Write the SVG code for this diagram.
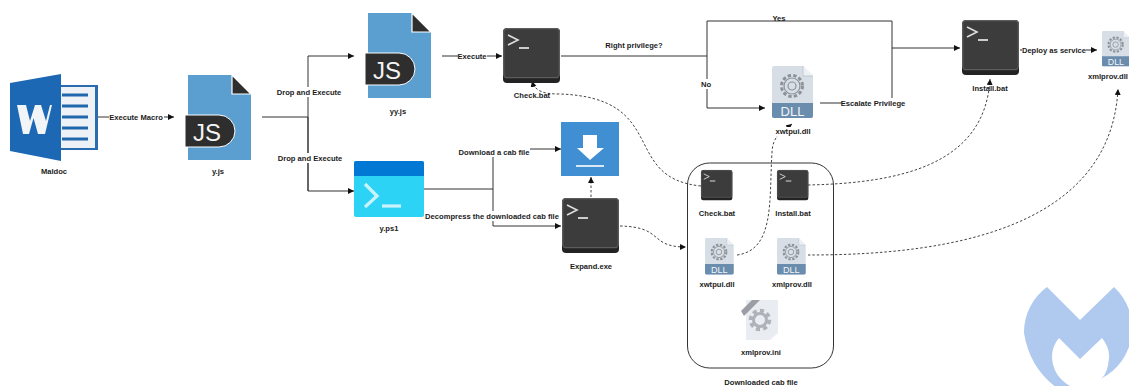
<svg xmlns="http://www.w3.org/2000/svg" xmlns:xlink="http://www.w3.org/1999/xlink" width="1129" height="386" viewBox="0 0 1129 386">
<style>
text{font-family:"Liberation Sans",Arial,sans-serif;font-weight:700;font-size:7.6px;fill:#1c1c1c;text-anchor:middle;dominant-baseline:central}
.c{fill:none;stroke:#333;stroke-width:1}
.d{fill:none;stroke:#444;stroke-width:1;stroke-dasharray:2.5 2}
.bg{fill:#fff}
</style>
<defs>
<marker id="a" markerWidth="8" markerHeight="8" refX="6" refY="3" orient="auto" markerUnits="userSpaceOnUse"><path d="M0 0L6 3L0 6Z" fill="#111"/></marker>
<g id="js">
<path d="M3 0H47L66 19V85H3Z" fill="#5b9fd1"/>
<path d="M47 0L66 19H47Z" fill="#2e2e2e" stroke="#fff" stroke-width="1.2"/>
<path d="M0 40H34A16 16 0 0 1 34 72H0Z" fill="#2e2e2e" stroke="#fff" stroke-width="1"/>
<text x="22" y="57" style="font-family:'Liberation Sans',sans-serif;font-weight:400;font-size:24px;fill:#f4f4f4">JS</text>
</g>
<g id="term">
<rect x="0" y="0" width="57" height="55" rx="4" fill="#232323"/>
<rect x="0.7" y="0.7" width="55.6" height="49" rx="3.5" fill="#3c3c3c" stroke="#5c5c5c" stroke-width="1.3"/>
<path d="M5 7L15 12L5 17" fill="none" stroke="#ddd" stroke-width="1.6"/>
<path d="M16 20H26" fill="none" stroke="#ddd" stroke-width="1.8"/>
</g>
<g id="dll">
<path d="M0 2Q0 0 2 0H31L41 10V50Q41 52 39 52H2Q0 52 0 50Z" fill="#d8dee5"/>
<path d="M31 0V10H41" fill="#eef1f4" stroke="#b8c2cc" stroke-width=".8"/>
<path d="M0 37H41V50Q41 52 39 52H2Q0 52 0 50Z" fill="#6a8cad"/>
<circle cx="20" cy="20" r="10.500" fill="none" stroke="#8d9299" stroke-width="3" stroke-dasharray="3.4 2.2"/>
<circle cx="20" cy="20" r="8" fill="none" stroke="#8d9299" stroke-width="1.2"/>
<circle cx="20" cy="20" r="4" fill="none" stroke="#8d9299" stroke-width="1.2"/>
<text x="20.5" y="45" style="font-weight:400;font-size:13px;fill:#f2f5f8">DLL</text>
</g>
</defs>
<rect width="1129" height="386" fill="#fff"/>

<g id="logo">
<path d="M1047 287L1080 320L1114 287A56 56 0 0 1 1102 378L1108 390H1060Q1030 370 1024 333A56 56 0 0 1 1047 287Z" fill="#b0c9ee"/>
<path d="M1059 338L1080 359L1102 338Q1110 348 1109 358Q1108 372 1102 378L1110 390H1078Q1053 380 1052 357Q1052 346 1059 338Z" fill="#fff"/>
</g>

<g id="connectors">
<path class="c" marker-end="url(#a)" d="M98 117H174"/>
<path class="c" d="M262 117H308"/>
<path class="c" marker-end="url(#a)" d="M308 191V56H354"/>
<path class="c" marker-end="url(#a)" d="M308 117V191H354"/>
<path class="c" marker-end="url(#a)" d="M442 56H502"/>
<path class="c" d="M561 56H707V21H892V103H820"/>
<path class="c" marker-end="url(#a)" d="M707 56V108H765"/>
<path class="c" marker-end="url(#a)" d="M892 48H960"/>
<path class="c" marker-end="url(#a)" d="M1020 50H1097"/>
<path class="c" d="M424 189H493"/>
<path class="c" marker-end="url(#a)" d="M493 226V149H561"/>
<path class="c" marker-end="url(#a)" d="M493 226H561"/>
<path class="d" marker-end="url(#a)" d="M591 197V177"/>
<path class="d" marker-end="url(#a)" d="M620 226C665 227 648 247 686 247"/>
<path class="d" marker-end="url(#a)" d="M701 186C620 178 670 98 560 94C545 94 535 92 532 81"/>
<path class="d" marker-end="url(#a)" d="M808 185C900 183 985 165 990 79"/>
<path class="d" marker-end="url(#a)" d="M808 255C920 255 1110 240 1118 89"/>
<path class="d" marker-end="url(#a)" d="M737 255C775 250 769 200 772 152C773 135 782 132 792 124"/>
</g>

<g id="labels-on-lines">
<rect class="bg" x="109" y="112" width="55" height="10"/><text x="136" y="117">Execute Macro</text>
<rect class="bg" x="276" y="87" width="66" height="10"/><text x="309" y="92">Drop and Execute</text>
<rect class="bg" x="277" y="153" width="66" height="10"/><text x="310" y="158">Drop and Execute</text>
<rect class="bg" x="458" y="51" width="29" height="10"/><text x="472" y="56">Execute</text>
<text x="634" y="45">Right privilege?</text>
<text x="779" y="18">Yes</text>
<rect class="bg" x="701" y="79" width="11" height="10"/><text x="706" y="84">No</text>
<rect class="bg" x="842" y="98" width="63" height="10"/><text x="873" y="103">Escalate Privilege</text>
<rect class="bg" x="1022" y="45" width="64" height="10"/><text x="1054" y="50">Deploy as service</text>
<rect class="bg" x="458" y="147" width="72" height="10"/><text x="494" y="152">Download a cab file</text>
<rect class="bg" x="426" y="211" width="133" height="10"/><text x="492" y="216">Decompress the downloaded cab file</text>
</g>

<g id="maldoc">
<path d="M61 85H98V150H61Z" fill="#2b6cb0"/><path d="M61 87H95V148H61Z" fill="#eef2f6"/>
<path d="M62 95H88M62 106H88M62 117H88M62 128H88M62 139H88" stroke="#1f66ad" stroke-width="3"/>
<path d="M10 83L61 74V161L10 151Z" fill="#1c68b4"/>
<path d="M17 105H26L30 121L35 105H41L46 121L50 105H52L45 134H38L33.500 118L29 134H23Z" fill="#f2f5f8"/>
<text x="54" y="171">Maldoc</text>
</g>
<g id="y-js"><use xlink:href="#js" href="#js" x="185" y="75"/><text x="218" y="171">y.js</text></g>
<g id="yy-js"><use xlink:href="#js" href="#js" x="365" y="13"/><text x="398" y="111">yy.js</text></g>
<g id="y-ps1">
<rect x="354" y="161" width="70" height="56" rx="2" fill="#2dd3f5"/>
<path d="M354 176V163Q354 161 356 161H422Q424 161 424 163V176Z" fill="#0078d4"/>
<path d="M365 184L377 196L365 207" fill="none" stroke="#c9f3fb" stroke-width="3.2"/>
<path d="M382 206H401" stroke="#c9f3fb" stroke-width="3.2"/>
<text x="389" y="228">y.ps1</text>
</g>
<g id="check-bat"><use xlink:href="#term" href="#term" x="503" y="28"/><text x="532" y="95">Check.bat</text></g>
<g id="download">
<rect x="561" y="122" width="58" height="54" fill="#3f8fd2"/>
<path d="M583 135H597V148H604L590 160L577 148H583Z" fill="#fff"/>
<path d="M576 166H604" stroke="#fff" stroke-width="1.6"/>
</g>
<g id="expand-exe"><use xlink:href="#term" href="#term" x="562" y="198"/><text x="591" y="266">Expand.exe</text></g>
<g id="xwtpui-top"><use xlink:href="#dll" href="#dll" x="772" y="66"/><rect class="bg" x="773" y="127" width="40" height="9"/><text x="793" y="131">xwtpui.dll</text></g>
<g id="install-bat"><use xlink:href="#term" href="#term" x="962" y="20"/><text x="990" y="88">Install.bat</text></g>
<g id="xmlprov-top"><use xlink:href="#dll" href="#dll" transform="translate(1102 31) scale(.68)"/><text x="1108" y="76">xmlprov.dll</text></g>

<g id="cab">
<rect x="687.500" y="163" width="146" height="205" rx="22" fill="none" stroke="#333" stroke-width="1"/>
<text x="761" y="382">Downloaded cab file</text>
</g>
<g id="cab-check"><use xlink:href="#term" href="#term" transform="translate(701 170) scale(.55)"/><text x="717" y="213">Check.bat</text></g>
<g id="cab-install"><use xlink:href="#term" href="#term" transform="translate(777 170) scale(.55)"/><text x="793" y="213">Install.bat</text></g>
<g id="cab-xwtpui"><use xlink:href="#dll" href="#dll" transform="translate(705 238) scale(.7)"/><text x="717" y="284">xwtpui.dll</text></g>
<g id="cab-xmlprov"><use xlink:href="#dll" href="#dll" transform="translate(777 238) scale(.7)"/><text x="792" y="284">xmlprov.dll</text></g>
<g id="cab-ini">
<path d="M746 300H778V333L770 340H746Z" fill="#e9ecf1"/>
<path d="M741 311L752 300H760L744 316Z" fill="#9a9da3"/>
<circle cx="760" cy="320" r="9" fill="none" stroke="#aeb3ba" stroke-width="4.500" stroke-dasharray="4 3"/>
<circle cx="760" cy="320" r="6.500" fill="none" stroke="#aeb3ba" stroke-width="3"/>
<text x="761" y="352">xmlprov.ini</text>
</g>
</svg>
